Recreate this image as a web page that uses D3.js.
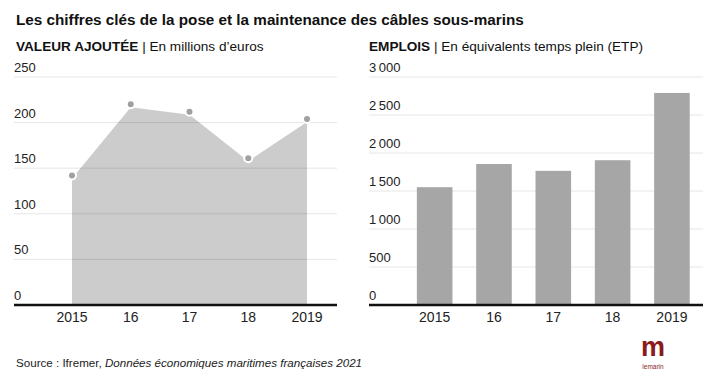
<!DOCTYPE html>
<html><head><meta charset="utf-8">
<script src="https://cdn.jsdelivr.net/npm/d3@7"></script>
<style>
html,body{margin:0;padding:0;background:#fff;}
svg{display:block;font-family:"Liberation Sans",Arial,sans-serif;}
</style></head>
<body><svg id="c" width="715" height="381"></svg>
<script>
const years = ["2015","16","17","18","2019"];
const valeurAjoutee = [142, 220, 212, 161, 204];
const emplois = [1550, 1855, 1765, 1905, 2790];
const leftTicks = [0, 50, 100, 150, 200, 250];
const rightTicks = [0, 500, 1000, 1500, 2000, 2500, 3000];
const title = "Les chiffres clés de la pose et la maintenance des câbles sous-marins";
const fmt = d => d3.format(",")(d).replace(/,/g, "\u202F");

const svg = d3.select("#c");
const Y0 = 305, Y1 = 77;

svg.append("text").attr("x", 16).attr("y", 25).attr("font-size", 15.25).attr("font-weight", "bold").attr("fill", "#111").text(title);

function subtitle(x, bold, rest) {
  const t = svg.append("text").attr("x", x).attr("y", 51).attr("font-size", 13.6).attr("fill", "#111");
  t.append("tspan").attr("font-weight", "bold").text(bold);
  t.append("tspan").text(" | " + rest);
}
subtitle(16, "VALEUR AJOUTÉE", "En millions d\u2019euros");
subtitle(369, "EMPLOIS", "En équivalents temps plein (ETP)");

// LEFT chart
const yL = d3.scaleLinear().domain([0, 250]).range([Y0, Y1]);
const xL = d3.scalePoint().domain(years).range([72, 307]);
const gL = svg.append("g");
const area = d3.area().x((d, i) => xL(years[i])).y0(yL(0)).y1(d => yL(d) + 3);
gL.append("path").datum(valeurAjoutee).attr("d", area).attr("fill", "#cccccc");
gL.selectAll("line.grid").data(leftTicks.filter(d => d > 0)).join("line")
  .attr("x1", 14).attr("x2", 337).attr("y1", d => yL(d)).attr("y2", d => yL(d))
  .attr("stroke", "rgba(0,0,0,0.1)").attr("stroke-width", 1);
gL.selectAll("text.yt").data(leftTicks).join("text")
  .attr("x", 14).attr("y", d => yL(d) - 5).attr("font-size", 13).attr("fill", "#222").text(d => d);
gL.selectAll("circle").data(valeurAjoutee).join("circle")
  .attr("cx", (d, i) => xL(years[i])).attr("cy", d => yL(d)).attr("r", 4)
  .attr("fill", "#a0a0a0").attr("stroke", "#fff").attr("stroke-width", 2);
gL.append("line").attr("x1", 14).attr("x2", 337).attr("y1", Y0).attr("y2", Y0).attr("stroke", "#111").attr("stroke-width", 2.5);
gL.selectAll("text.xt").data(years).join("text")
  .attr("x", d => xL(d)).attr("y", 322).attr("text-anchor", "middle").attr("font-size", 14).attr("fill", "#222").text(d => d);

// RIGHT chart
const yR = d3.scaleLinear().domain([0, 3000]).range([Y0, Y1]);
const xR = d3.scaleBand().domain(years).range([405, 701.6]).paddingInner(0.4).paddingOuter(0.2);
const gR = svg.append("g");
gR.selectAll("line.grid").data(rightTicks.filter(d => d > 0)).join("line")
  .attr("x1", 369).attr("x2", 703).attr("y1", d => yR(d)).attr("y2", d => yR(d))
  .attr("stroke", "#e6e6e6").attr("stroke-width", 1);
gR.selectAll("rect").data(emplois).join("rect")
  .attr("x", (d, i) => xR(years[i])).attr("width", xR.bandwidth())
  .attr("y", d => yR(d)).attr("height", d => yR(0) - yR(d)).attr("fill", "#a6a6a6");
gR.selectAll("text.yt").data(rightTicks).join("text")
  .attr("x", 369).attr("y", d => yR(d) - 5).attr("font-size", 13).attr("fill", "#222").text(d => fmt(d));
gR.append("line").attr("x1", 369).attr("x2", 703).attr("y1", Y0).attr("y2", Y0).attr("stroke", "#111").attr("stroke-width", 2.5);
gR.selectAll("text.xt").data(years).join("text")
  .attr("x", d => xR(d) + xR.bandwidth() / 2).attr("y", 322).attr("text-anchor", "middle").attr("font-size", 14).attr("fill", "#222").text(d => d);

// Source
const s = svg.append("text").attr("x", 16).attr("y", 367).attr("font-size", 11.6).attr("fill", "#222");
s.append("tspan").text("Source : Ifremer, ");
s.append("tspan").attr("font-style", "italic").text("Données économiques maritimes françaises 2021");

// Logo
svg.append("text").attr("x", 653).attr("y", 356).attr("text-anchor", "middle").attr("font-size", 27).attr("font-weight", "bold").attr("fill", "#8b1a1a").text("m");
svg.append("text").attr("x", 653).attr("y", 369).attr("text-anchor", "middle").attr("font-size", 6.5).attr("fill", "#8b1a1a").text("lemarin");
</script></body></html>
